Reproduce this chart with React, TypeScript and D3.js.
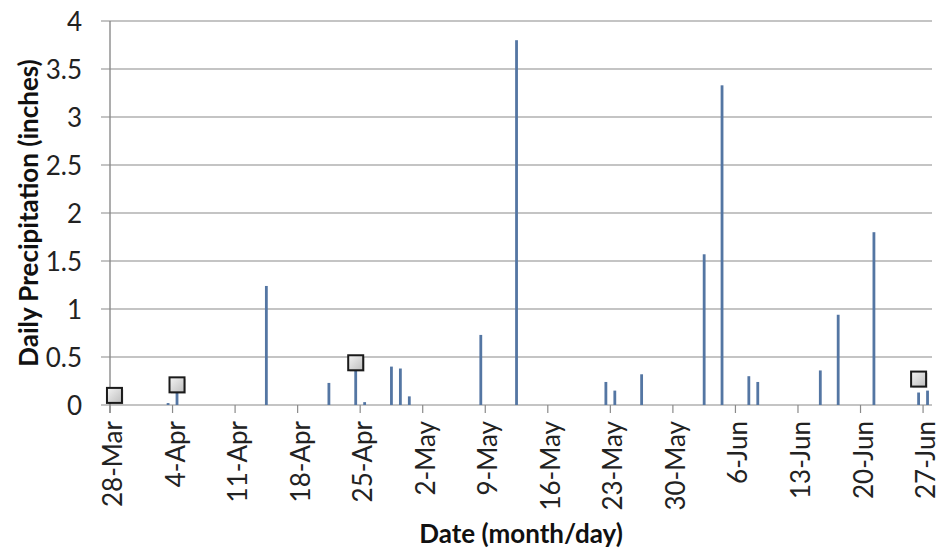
import React from "react";
import * as d3 from "d3";

// ---- data ----
const precipDates: string[] = [
  "2012-04-03", "2012-04-04", "2012-04-14", "2012-04-21", "2012-04-24", "2012-04-25",
  "2012-04-28", "2012-04-29", "2012-04-30", "2012-05-08", "2012-05-12", "2012-05-22",
  "2012-05-23", "2012-05-26", "2012-06-02", "2012-06-04", "2012-06-07", "2012-06-08",
  "2012-06-15", "2012-06-17", "2012-06-21", "2012-06-26", "2012-06-27",
];
const precipValues: number[] = [
  0.02, 0.13, 1.24, 0.23, 0.4, 0.03,
  0.4, 0.38, 0.09, 0.73, 3.8, 0.24,
  0.15, 0.32, 1.57, 3.33, 0.3, 0.24,
  0.36, 0.94, 1.8, 0.13, 0.15,
];
const markerDates: string[] = ["2012-03-28", "2012-04-04", "2012-04-24", "2012-06-26"];
const markerValues: number[] = [0.1, 0.21, 0.44, 0.27];

const axisStart = "2012-03-28";
const axisEnd = "2012-06-28";
const xTickLabels: string[] = [
  "28-Mar", "4-Apr", "11-Apr", "18-Apr", "25-Apr", "2-May", "9-May",
  "16-May", "23-May", "30-May", "6-Jun", "13-Jun", "20-Jun", "27-Jun",
];
const yTicks: number[] = [0, 0.5, 1, 1.5, 2, 2.5, 3, 3.5, 4];
const yTitle = "Daily Precipitation (inches)";
const xTitle = "Date (month/day)";

const parse = d3.timeParse("%Y-%m-%d");
const parseLabel = (s: string) => d3.timeParse("%Y-%d-%b")("2012-" + s) as Date;

export default function App() {
  const W = 942, H = 553;
  const left = 110, right = 932, top = 21, bottom = 405;
  const x = d3.scaleTime()
    .domain([parse(axisStart) as Date, parse(axisEnd) as Date])
    .range([left, right]);
  const y = d3.scaleLinear().domain([0, 4]).range([bottom, top]);
  const center = (d: Date) => x(d3.timeHour.offset(d, 12));
  const font = "Lato, 'Open Sans', sans-serif";
  const gridColor = "#8a8a8a";
  const barColor = "#5476a3";

  return (
    <svg width={W} height={H} style={{ position: "absolute", left: 0, top: 0, background: "#fff" }}>
      <defs>
        <linearGradient id="mk" x1="0" y1="0" x2="1" y2="1">
          <stop offset="0" stopColor="#f4f4f4" />
          <stop offset="1" stopColor="#bdbdbd" />
        </linearGradient>
      </defs>
      <rect x={0} y={0} width={W} height={H} fill="#fff" />
      {/* gridlines */}
      {yTicks.map((t) => (
        <g key={t}>
          <line x1={left - 9} x2={right} y1={y(t)} y2={y(t)} stroke={gridColor} strokeWidth={1.2} />
          <text x={82} y={y(t)} textAnchor="end" dominantBaseline="central" fontFamily={font} fontSize={26} fill="#222">
            {d3.format("")(t)}
          </text>
        </g>
      ))}
      {/* y axis line */}
      <line x1={left} x2={left} y1={top} y2={bottom + 8} stroke={gridColor} strokeWidth={1.4} />
      {/* x ticks + labels */}
      {xTickLabels.map((lab) => {
        const tx = x(parseLabel(lab));
        return (
          <g key={lab}>
            <line x1={tx} x2={tx} y1={bottom} y2={bottom + 8} stroke={gridColor} strokeWidth={1.2} />
            <text
              transform={`translate(${tx + 2},${bottom + 16}) rotate(-90)`}
              textAnchor="end"
              dominantBaseline="central"
              fontFamily={font}
              fontSize={26}
              fill="#222"
            >
              {lab}
            </text>
          </g>
        );
      })}
      {/* bars */}
      {precipDates.map((ds, i) => {
        const cx = center(parse(ds) as Date);
        const bw = 2.8;
        return (
          <rect key={ds} x={cx - bw / 2} y={y(precipValues[i])} width={bw} height={y(0) - y(precipValues[i])} fill={barColor} />
        );
      })}
      {/* markers */}
      {markerDates.map((ds, i) => {
        const cx = center(parse(ds) as Date);
        const cy = y(markerValues[i]);
        const s = 15;
        return (
          <g key={ds}>
            <rect x={cx - s / 2 + 1.5} y={cy - s / 2 + 1.5} width={s} height={s} fill="#000" opacity={0.15} />
            <rect x={cx - s / 2} y={cy - s / 2} width={s} height={s} fill="url(#mk)" stroke="#1a1a1a" strokeWidth={2} />
          </g>
        );
      })}
      {/* titles */}
      <text
        transform={`translate(28,${(top + bottom) / 2}) rotate(-90)`}
        textAnchor="middle"
        dominantBaseline="central"
        fontFamily={font}
        fontWeight="bold"
        fontSize={26}
        fill="#111"
      >
        {yTitle}
      </text>
      <text x={(left + right) / 2} y={533} textAnchor="middle" dominantBaseline="central" fontFamily={font} fontWeight="bold" fontSize={26} fill="#111">
        {xTitle}
      </text>
    </svg>
  );
}
